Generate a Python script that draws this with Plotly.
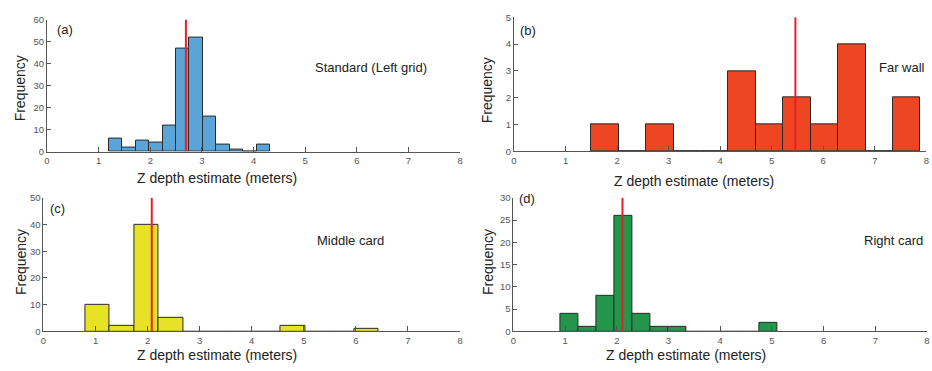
import plotly.graph_objects as go

W, H = 932, 371

# ---- data ----
labels = ["(a)", "(b)", "(c)", "(d)"]
names = ["Standard (Left grid)", "Far wall", "Middle card", "Right card"]
bin_start = [1.2, 1.5, 0.8, 0.9]
bin_width = [0.26, 0.532, 0.47, 0.35]
counts_a = [6, 2, 5, 4, 12, 47, 52, 16, 3, 1, 0, 3]
counts_b = [1, 0, 1, 0, 0, 3, 1, 2, 1, 4, 0, 2]
counts_c = [10, 2, 40, 5, 0, 0, 0, 0, 2, 0, 0, 1]
counts_d = [4, 1, 8, 26, 4, 1, 1, 0, 0, 0, 0, 2]
counts = [counts_a, counts_b, counts_c, counts_d]
means = [2.69, 5.46, 2.08, 2.11]
y_max = [60, 5, 50, 30]
y_dtick = [10, 1, 10, 5]
x_ticks = [0, 1, 2, 3, 4, 5, 6, 7, 8]
colors = ["#5AA4D8", "#EE4623", "#E8E226", "#22964A"]

# ---- layout (pixel boxes) ----
boxes = [(44.3, 460, 14, 150), (514.3, 929.3, 11.7, 149.7),
         (40.7, 460, 197.7, 335.3), (513.7, 930, 197.7, 335.3)]
xtitle_pos = [(215, 177), (695, 180), (215, 360), (687, 360)]
ytitle_pos = [(18, 85), (488, 87), (18, 264), (488, 264)]
label_pos = [(62, 24), (528, 25), (55, 209), (527, 198)]
name_pos = [(370, 63), (905, 63), (350, 242), (896, 242)]

FONT = "Liberation Sans, Arial, Helvetica, sans-serif"
fig = go.Figure()
layout = dict(width=W, height=H, margin=dict(l=0, r=0, t=0, b=0),
              paper_bgcolor="white", plot_bgcolor="white", showlegend=False,
              font=dict(family=FONT, color="#222"), bargap=0)
annotations = []

for i in range(4):
    n = i + 1
    xa = "x" if n == 1 else f"x{n}"
    ya = "y" if n == 1 else f"y{n}"
    x0, x1, y0, y1 = boxes[i]
    centers = [bin_start[i] + bin_width[i] * (k + 0.5) for k in range(len(counts[i]))]
    fig.add_trace(go.Bar(x=centers, y=counts[i], width=bin_width[i], xaxis=xa, yaxis=ya,
                         marker=dict(color=colors[i], line=dict(color="#2a2a2a", width=1))))
    fig.add_trace(go.Scatter(x=[means[i], means[i]], y=[0, y_max[i]], mode="lines",
                             line=dict(color="#E8202A", width=2), xaxis=xa, yaxis=ya))
    axname_x = "xaxis" if n == 1 else f"xaxis{n}"
    axname_y = "yaxis" if n == 1 else f"yaxis{n}"
    layout[axname_x] = dict(domain=[x0 / W, x1 / W], anchor=ya, range=[0, 8],
                            tickvals=x_ticks, ticks="inside", ticklen=5, tickcolor="#555",
                            showline=True, linecolor="#555", linewidth=1, showgrid=False,
                            zeroline=False, tickfont=dict(size=9.5, color="#555"))
    layout[axname_y] = dict(domain=[1 - y1 / H, 1 - y0 / H], anchor=xa, range=[0, y_max[i]],
                            dtick=y_dtick[i], ticks="inside", ticklen=4, tickcolor="#555",
                            showline=True, linecolor="#555", linewidth=1, showgrid=False,
                            zeroline=False, tickfont=dict(size=9.5, color="#555"))
    tx, ty = xtitle_pos[i]
    annotations.append(dict(text="Z depth estimate (meters)", x=tx / W, y=1 - ty / H,
                            xref="paper", yref="paper", showarrow=False,
                            font=dict(size=14, color="#222"), xanchor="center", yanchor="middle"))
    tx, ty = ytitle_pos[i]
    annotations.append(dict(text="Frequency", x=tx / W, y=1 - ty / H, textangle=-90,
                            xref="paper", yref="paper", showarrow=False,
                            font=dict(size=14, color="#222"), xanchor="center", yanchor="middle"))
    tx, ty = label_pos[i]
    annotations.append(dict(text=labels[i], x=tx / W, y=1 - ty / H,
                            xref="paper", yref="paper", showarrow=False,
                            font=dict(size=13, color="#222"), xanchor="center", yanchor="middle"))
    tx, ty = name_pos[i]
    annotations.append(dict(text=names[i], x=tx / W, y=1 - ty / H,
                            xref="paper", yref="paper", showarrow=False,
                            font=dict(size=13, color="#222"), xanchor="center", yanchor="middle"))

layout["annotations"] = annotations
fig.update_layout(**layout)
fig.write_html("out.html", config={"displayModeBar": False},
               post_script="document.body.style.margin='0';document.body.style.overflow='hidden';")
